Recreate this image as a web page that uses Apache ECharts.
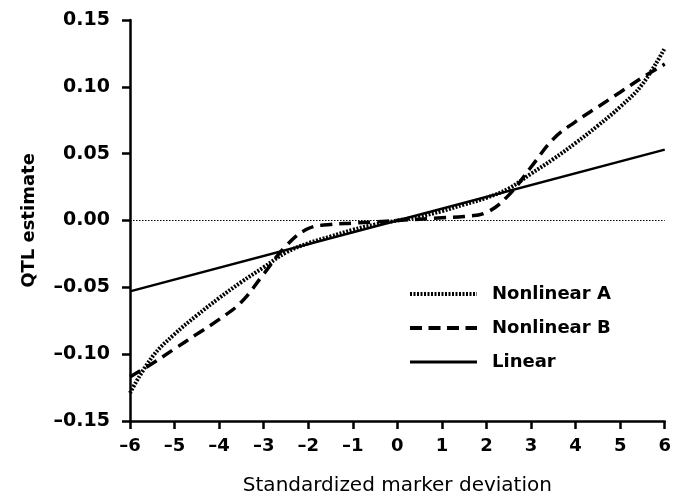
<!DOCTYPE html>
<html>
<head>
<meta charset="utf-8">
<script src="https://cdn.jsdelivr.net/npm/echarts@6/dist/echarts.min.js"></script>
<style>html,body{margin:0;padding:0;background:#fff}#c{width:674px;height:501px}</style>
</head>
<body>
<div id="c"></div>
<script>
// Data
const xVals = [-6,-5.5,-5,-4.5,-4,-3.5,-3,-2.5,-2,-1.5,-1,-0.5,0,0.5,1,1.5,2,2.5,3,3.5,4,4.5,5,5.5,6];
const nonlinearA = [-0.129,-0.102,-0.085,-0.071,-0.058,-0.046,-0.035,-0.024,-0.017,-0.012,-0.007,-0.003,0,0.003,0.007,0.012,0.017,0.024,0.035,0.046,0.058,0.071,0.085,0.102,0.129];
const nonlinearB = [-0.117,-0.107,-0.096,-0.085,-0.074,-0.061,-0.040,-0.019,-0.006,-0.003,-0.002,-0.001,0,0.001,0.002,0.003,0.006,0.019,0.040,0.061,0.074,0.085,0.096,0.107,0.117];
const linearX = [-6, 0, 6];
const linearY = [-0.053, 0, 0.053];
const seriesNames = ['Nonlinear A', 'Nonlinear B', 'Linear'];
const xTicks = {min: -6, max: 6, step: 1};
const yTicks = {min: -0.15, max: 0.15, step: 0.05};

const FONT = 'DejaVu Sans';
const dash = s => String(s).replace('-', '\u2013');

// legend sample icons (67 x 4 boxes)
function patternPath(seg, gap, total, h) {
  let p = '';
  for (let x = 0; x < total; x += seg + gap) {
    const w = Math.min(seg, total - x);
    p += 'M' + x + ' 0h' + w + 'v' + h + 'h-' + w + 'z';
  }
  return 'path://' + p;
}
const iconDotted = patternPath(2, 1.5, 67, 4);
const iconDashed = patternPath(12, 6.5, 67, 4);
const iconSolid = 'path://M0 0h67v3h-67z';

const chart = echarts.init(document.getElementById('c'), null, {renderer: 'canvas'});
chart.setOption({
  animation: false,
  backgroundColor: '#fff',
  grid: {left: 130, right: 7, top: 20, bottom: 79},
  legend: {
    orient: 'vertical',
    left: 405, top: 280,
    itemWidth: 67, itemHeight: 4, itemGap: 16,
    data: [
      {name: seriesNames[0], icon: iconDotted},
      {name: seriesNames[1], icon: iconDashed},
      {name: seriesNames[2], icon: iconSolid}
    ],
    itemStyle: {color: '#000', borderWidth: 0},
    textStyle: {fontFamily: FONT, fontWeight: 'bold', fontSize: 18, color: '#000', padding: [0,0,0,10]}
  },
  xAxis: {
    type: 'value', min: xTicks.min, max: xTicks.max, interval: xTicks.step,
    name: 'Standardized marker deviation', nameLocation: 'middle', nameGap: 55,
    nameTextStyle: {fontFamily: FONT, fontSize: 20, color: '#000'},
    axisLine: {onZero: false, lineStyle: {color: '#000', width: 2.5}},
    axisTick: {length: 8, lineStyle: {color: '#000', width: 2.5}},
    axisLabel: {fontFamily: FONT, fontWeight: 'bold', fontSize: 18, color: '#000', margin: 16, formatter: v => dash(v)},
    splitLine: {show: false}
  },
  yAxis: {
    type: 'value', min: yTicks.min, max: yTicks.max, interval: yTicks.step,
    name: 'QTL estimate', nameLocation: 'middle', nameGap: 92,
    nameTextStyle: {fontFamily: FONT, fontWeight: 'bold', fontSize: 18, color: '#000'},
    axisLine: {onZero: false, lineStyle: {color: '#000', width: 2.5}},
    axisTick: {length: 8, lineStyle: {color: '#000', width: 2.5}},
    axisLabel: {fontFamily: FONT, fontWeight: 'bold', fontSize: 19, color: '#000', margin: 20, formatter: v => dash(v.toFixed(2))},
    splitLine: {show: false}
  },
  series: [
    {
      name: seriesNames[0], type: 'line', smooth: 0.4, symbol: 'none',
      data: xVals.map((x, i) => [x, nonlinearA[i]]),
      lineStyle: {color: '#000', width: 4, type: [2, 1.5]},
      itemStyle: {color: '#000'}
    },
    {
      name: seriesNames[1], type: 'line', smooth: 0.4, symbol: 'none',
      data: xVals.map((x, i) => [x, nonlinearB[i]]),
      lineStyle: {color: '#000', width: 3.5, type: [12, 7]},
      itemStyle: {color: '#000'}
    },
    {
      name: seriesNames[2], type: 'line', symbol: 'none',
      data: linearX.map((x, i) => [x, linearY[i]]),
      lineStyle: {color: '#000', width: 2.5, type: 'solid'},
      itemStyle: {color: '#000'},
      markLine: {
        silent: true, symbol: 'none', label: {show: false},
        lineStyle: {color: '#000', width: 1, type: [1.5, 1.5]},
        data: [{yAxis: 0}]
      }
    }
  ]
});
</script>
</body>
</html>
